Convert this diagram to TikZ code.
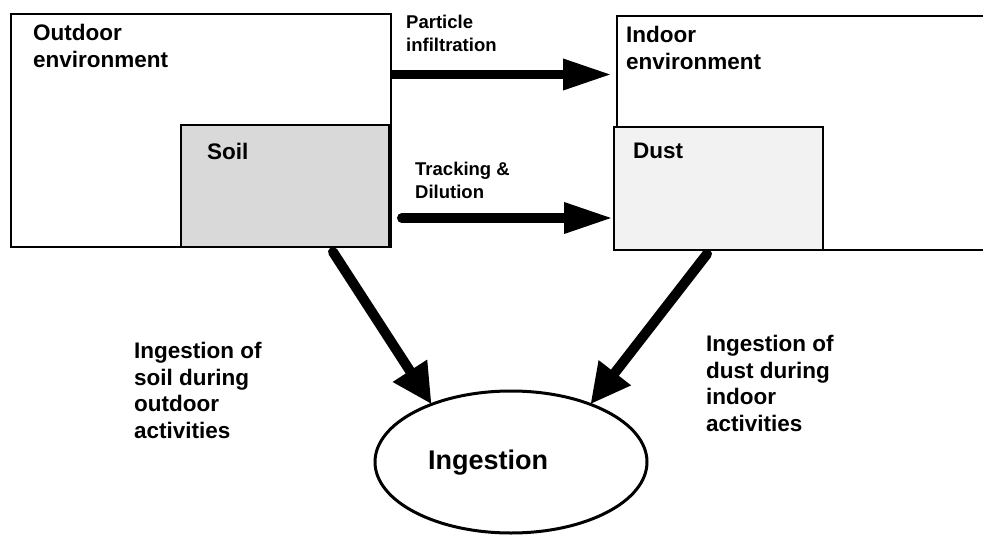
\documentclass[tikz,border=0pt]{standalone}
\usepackage{fontspec}
\setmainfont{Liberation Sans}
\usetikzlibrary{arrows.meta,shapes.geometric}
\definecolor{soilgray}{RGB}{217,217,217}
\definecolor{dustgray}{RGB}{242,242,242}
\begin{document}
\begin{tikzpicture}[x=1pt,y=-1pt,
  box/.style={draw=black,line width=2.6pt,inner sep=0pt,outer sep=0pt,anchor=north west},
  lbl/.style={font=\bfseries\fontsize{22.5}{26.5}\selectfont,align=left,inner sep=0pt,anchor=north west},
  smalllbl/.style={font=\bfseries\fontsize{18.5}{23}\selectfont,align=left,inner sep=0pt,anchor=north west},
  biglbl/.style={font=\bfseries\fontsize{27}{32}\selectfont,inner sep=0pt,anchor=north west},
  harrow/.style={line width=9.5pt,-{Triangle[length=49pt,width=29pt]}},
  darrow/.style={line width=10pt,line cap=round,-{Triangle[length=40pt,width=38pt]}},
]
\useasboundingbox (0,0) rectangle (983,535);
% boxes
\node[box,minimum width=369pt,minimum height=234pt] (indoor) at (617,16) {};
\node[box,fill=dustgray,minimum width=209pt,minimum height=123pt] (dust) at (614,127) {};
\node[box,minimum width=380pt,minimum height=233pt] (outdoor) at (11,14) {};
\node[box,fill=soilgray,minimum width=208pt,minimum height=122pt] (soil) at (181,125) {};
\node[draw,ellipse,line width=3pt,inner sep=0pt,outer sep=0pt,minimum width=272pt,minimum height=142pt] (ing) at (511,462) {};
% texts
\node[lbl] (toutdoor) at (33,24) {Outdoor\\environment};
\node[lbl] (tsoil) at (207,143) {Soil};
\node[lbl] (tindoor) at (626,26) {Indoor\\environment};
\node[lbl] (tdust) at (633,143) {Dust};
\node[smalllbl] (tpart) at (406,14.5) {Particle\\infiltration};
\node[smalllbl] (ttrack) at (415,162) {Tracking \&\\Dilution};
\node[lbl] (tsoiling) at (134,342) {Ingestion of\\soil during\\outdoor\\activities};
\node[lbl] (tdusting) at (706,335) {Ingestion of\\dust during\\indoor\\activities};
\node[biglbl] (ting) at (428,450) {Ingestion};
% connectors
\draw[harrow] ([yshift=-60.5pt]outdoor.north east) -- ([xshift=-5pt,yshift=-58.5pt]indoor.north west);
\draw[harrow,line cap=round] ([xshift=12.75pt,yshift=-32pt]soil.east) -- ([xshift=-1pt,yshift=-29.5pt]dust.west);
\draw[darrow] ([xshift=48pt,yshift=-5pt]soil.south) -- (ing.144.6);
\draw[darrow] ([xshift=-11.5pt,yshift=-4pt]dust.south) -- (ing.36.4);
\end{tikzpicture}
\end{document}
